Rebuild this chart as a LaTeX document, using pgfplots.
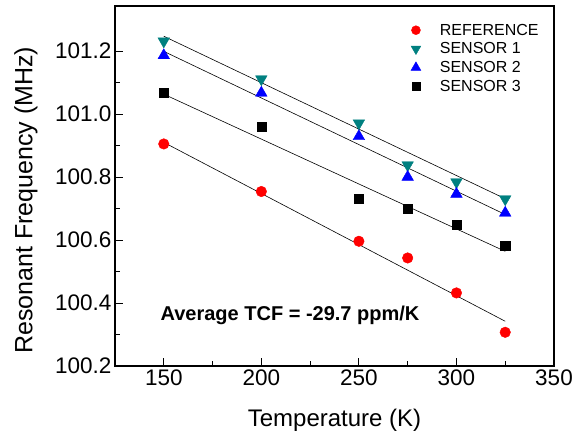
\documentclass[border=0pt]{standalone}
\usepackage{fontspec}
\setmainfont{Liberation Sans}
\usepackage{pgfplots}
\pgfplotsset{compat=1.18}
\definecolor{teal1}{RGB}{0,128,128}
\begin{document}
\begin{tikzpicture}
\useasboundingbox (-115pt,-75pt) rectangle (469pt,366pt);
\begin{axis}[
  scale only axis,
  width=439pt, height=360pt,
  xmin=125, xmax=350, ymin=100.2, ymax=101.343,
  xtick={150,200,250,300,350},
  ytick={100.2,100.4,100.6,100.8,101.0,101.2},
  minor x tick num=1, minor y tick num=1,
  tick align=inside, tick pos=left,
  major tick length=8pt, minor tick length=5pt,
  axis line style={line width=1.1pt},
  every tick/.style={line width=0.9pt, black},
  /pgf/number format/assume math mode=true,
  yticklabel style={/pgf/number format/fixed, /pgf/number format/precision=1, /pgf/number format/fixed zerofill},
  xticklabel style={/pgf/number format/fixed},
  tick label style={font=\fontsize{22.5}{26}\selectfont},
  xlabel={Temperature (K)},
  ylabel={Resonant Frequency (MHz)},
  xlabel style={font=\fontsize{24}{28}\selectfont, at={(axis description cs:0.5,-0.152)}, anchor=center},
  ylabel style={font=\fontsize{25}{29}\selectfont, at={(axis description cs:-0.203,0.46)}, anchor=center},
  legend style={draw=none, fill=none, font=\fontsize{16}{19}\selectfont,
    at={(axis description cs:0.667,0.962)}, anchor=north west, row sep=2pt},
  legend image post style={scale=0.85},
  legend cell align=left,
]
% fit lines
\addplot[black, line width=0.6pt, forget plot] coordinates {(150,100.910) (325,100.342)};
\addplot[black, line width=0.6pt, forget plot] coordinates {(150,101.247) (325,100.731)};
\addplot[black, line width=0.6pt, forget plot] coordinates {(150,101.199) (325,100.681)};
\addplot[black, line width=0.6pt, forget plot] coordinates {(150,101.063) (325,100.564)};
% data
\addplot[only marks, mark=*, mark size=5.3pt, color=red, mark options={draw=red, fill=red}] coordinates {
(150,100.905) (200,100.754) (250,100.596) (275,100.543) (300,100.432) (325,100.307)};
\addlegendentry{\hspace{17pt}REFERENCE}
\addplot[only marks, mark=triangle*, mark size=6.7pt, color=teal1, mark options={rotate=180, draw=teal1, fill=teal1}] coordinates {
(150,101.231) (200,101.111) (250,100.971) (275,100.838) (300,100.784) (325,100.730)};
\addlegendentry{\hspace{17pt}SENSOR 1}
\addplot[only marks, mark=triangle*, mark size=6.7pt, color=blue, mark options={draw=blue, fill=blue}] coordinates {
(150,101.186) (200,101.067) (250,100.929) (275,100.800) (300,100.746) (325,100.686)};
\addlegendentry{\hspace{17pt}SENSOR 2}
\addplot[only marks, mark=square*, mark size=4.6pt, color=black, mark options={draw=black, fill=black}] coordinates {
(150,101.067) (200,100.959) (250,100.732) (275,100.699) (300,100.648) (325,100.582)};
\addlegendentry{\hspace{17pt}SENSOR 3}
\node[font=\bfseries\fontsize{20}{24}\selectfont] at (axis cs:214.7,100.362) {Average TCF = -29.7 ppm/K};
\end{axis}
\end{tikzpicture}
\end{document}
